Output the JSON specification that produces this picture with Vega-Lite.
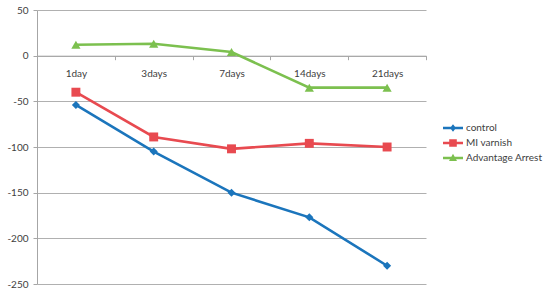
{
  "$schema": "https://vega.github.io/schema/vega-lite/v6.json",
  "width": 389,
  "height": 274,
  "autosize": {"type": "none"},
  "padding": {"left": 37, "top": 10, "right": 124, "bottom": 11},
  "background": "white",
  "config": {
    "view": {"stroke": null},
    "font": "Lato",
    "axis": {"labelFont": "Lato", "labelFontSize": 10, "labelColor": "#404040"}
  },
  "data": {
    "values": [
      {"day": "1day", "series": "control", "value": -54},
      {"day": "3days", "series": "control", "value": -105},
      {"day": "7days", "series": "control", "value": -150},
      {"day": "14days", "series": "control", "value": -177},
      {"day": "21days", "series": "control", "value": -230},
      {"day": "1day", "series": "MI varnish", "value": -40},
      {"day": "3days", "series": "MI varnish", "value": -89},
      {"day": "7days", "series": "MI varnish", "value": -102},
      {"day": "14days", "series": "MI varnish", "value": -96},
      {"day": "21days", "series": "MI varnish", "value": -100},
      {"day": "1day", "series": "Advantage Arrest", "value": 12},
      {"day": "3days", "series": "Advantage Arrest", "value": 13},
      {"day": "7days", "series": "Advantage Arrest", "value": 4},
      {"day": "14days", "series": "Advantage Arrest", "value": -35},
      {"day": "21days", "series": "Advantage Arrest", "value": -35}
    ]
  },
  "encoding": {
    "x": {
      "field": "day", "type": "nominal",
      "sort": ["1day", "3days", "7days", "14days", "21days"],
      "scale": {"type": "band", "paddingInner": 0, "paddingOuter": 0},
      "axis": {
        "title": null, "orient": "bottom", "offset": -228.3, "labelAngle": 0,
        "tickBand": "extent", "tickSize": 4, "tickColor": "#a6a6a6",
        "domainColor": "#a6a6a6", "labelPadding": 9, "grid": false
      }
    },
    "y": {
      "field": "value", "type": "quantitative",
      "scale": {"domain": [-250, 50], "nice": false, "zero": false},
      "axis": {
        "title": null, "values": [-250, -200, -150, -100, -50, 0, 50],
        "labelExpr": "'' + datum.value",
        "grid": true, "gridColor": "#b0b0b0", "domainColor": "#a6a6a6",
        "tickColor": "#a6a6a6", "tickSize": 4, "labelPadding": 5
      }
    },
    "color": {
      "field": "series", "type": "nominal",
      "sort": ["control", "MI varnish", "Advantage Arrest"],
      "scale": {
        "domain": ["control", "MI varnish", "Advantage Arrest"],
        "range": ["#1b75bc", "#e84a50", "#7cc04f"]
      },
      "legend": {
        "title": null, "orient": "none", "legendX": 406, "legendY": 108,
        "labelFont": "Lato", "labelFontSize": 10, "labelColor": "#404040",
        "symbolSize": 400, "rowPadding": 0, "labelOffset": 3,
        "symbolOpacity": 1, "symbolType": "square",
        "encode": {
          "symbols": {
            "update": {
              "shape": {"signal": "datum.value === 'control' ? 'M-1,-0.12H1V0.12H-1Z M0,-0.38L0.3,0L0,0.38L-0.3,0Z' : datum.value === 'MI varnish' ? 'M-1,-0.12H1V0.12H-1Z M-0.38,-0.38H0.38V0.38H-0.38Z' : 'M-1,-0.12H1V0.12H-1Z M0,-0.42L0.4,0.3H-0.4Z'"},
              "fill": {"scale": "color", "field": "value"},
              "fillOpacity": {"value": 1},
              "strokeWidth": {"value": 0}
            }
          }
        }
      }
    }
  },
  "layer": [
    {
      "mark": {"type": "line", "strokeWidth": 2.6}
    },
    {
      "transform": [{"filter": "datum.series === 'control'"}],
      "mark": {"type": "point", "filled": true, "opacity": 1, "shape": "diamond", "size": 65}
    },
    {
      "transform": [{"filter": "datum.series === 'MI varnish'"}],
      "mark": {"type": "point", "filled": true, "opacity": 1, "shape": "square", "size": 80}
    },
    {
      "transform": [{"filter": "datum.series === 'Advantage Arrest'"}],
      "mark": {"type": "point", "filled": true, "opacity": 1, "shape": "triangle-up", "size": 85}
    }
  ]
}
